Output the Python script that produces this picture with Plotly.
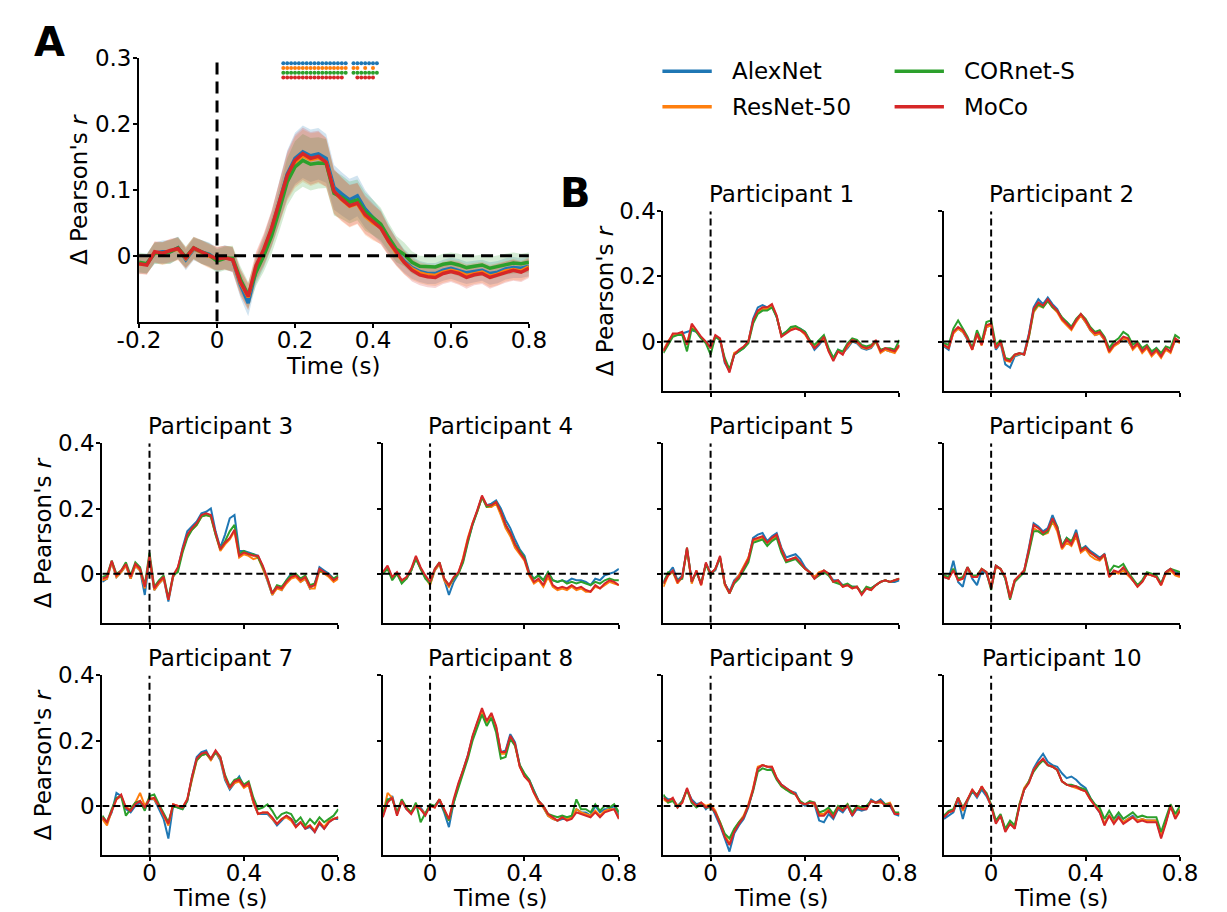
import numpy as np
import plotly.graph_objects as go

W, H = 1227, 912
FONT = "DejaVu Sans"

time = np.round(np.linspace(-0.2, 0.8, 51), 2)

models = ["AlexNet", "ResNet-50", "CORnet-S", "MoCo"]
colors = ["#1f77b4", "#ff7f0e", "#2ca02c", "#d62728"]
fills = ["rgba(31,119,180,0.2)", "rgba(255,127,14,0.2)", "rgba(44,160,44,0.2)", "rgba(214,39,40,0.2)"]

# ---------------- Panel A: group average ----------------
a_alexnet = [-0.012, -0.012, 0.004, 0.006, 0.006, 0.012, -0.006, 0.010, 0.006, 0.002,
             -0.006, -0.002, -0.006, -0.044, -0.072, -0.022, 0.006, 0.040, 0.082, 0.124,
             0.148, 0.158, 0.152, 0.155, 0.148, 0.104, 0.094, 0.085, 0.091, 0.071,
             0.058, 0.045, 0.024, 0.006, -0.008, -0.018, -0.024, -0.027, -0.027, -0.022,
             -0.019, -0.022, -0.026, -0.024, -0.022, -0.027, -0.025, -0.020, -0.018, -0.019, -0.016]
a_resnet = [-0.013, -0.013, 0.005, 0.003, 0.007, 0.010, -0.004, 0.011, 0.005, -0.001,
            -0.004, -0.003, -0.005, -0.041, -0.063, -0.018, 0.008, 0.040, 0.080, 0.119,
            0.142, 0.152, 0.146, 0.149, 0.142, 0.097, 0.085, 0.075, 0.079, 0.060,
            0.050, 0.043, 0.022, 0.004, -0.010, -0.020, -0.026, -0.029, -0.030, -0.025,
            -0.022, -0.025, -0.030, -0.027, -0.025, -0.031, -0.028, -0.023, -0.021, -0.023, -0.017]
a_cornet = [-0.010, -0.012, 0.004, 0.004, 0.006, 0.012, -0.002, 0.012, 0.006, 0.001,
            -0.008, -0.004, -0.004, -0.036, -0.060, -0.025, 0.000, 0.030, 0.070, 0.112,
            0.135, 0.145, 0.139, 0.141, 0.140, 0.095, 0.089, 0.081, 0.085, 0.067,
            0.058, 0.048, 0.028, 0.010, 0.002, -0.010, -0.016, -0.017, -0.017, -0.013,
            -0.011, -0.014, -0.018, -0.016, -0.014, -0.019, -0.016, -0.013, -0.011, -0.012, -0.010]
a_moco = [-0.012, -0.014, 0.006, 0.004, 0.008, 0.011, -0.003, 0.012, 0.006, 0.000,
          -0.005, -0.003, -0.006, -0.040, -0.062, -0.015, 0.010, 0.042, 0.082, 0.122,
          0.145, 0.155, 0.148, 0.151, 0.142, 0.098, 0.086, 0.076, 0.080, 0.062,
          0.052, 0.042, 0.022, 0.005, -0.010, -0.022, -0.029, -0.032, -0.033, -0.027,
          -0.024, -0.027, -0.033, -0.029, -0.027, -0.033, -0.029, -0.025, -0.022, -0.025, -0.019]
a_sem = [0.015, 0.015, 0.016, 0.017, 0.018, 0.017, 0.016, 0.017, 0.018, 0.018,
         0.018, 0.018, 0.019, 0.020, 0.020, 0.021, 0.024, 0.027, 0.032, 0.036,
         0.039, 0.040, 0.040, 0.039, 0.037, 0.034, 0.033, 0.032, 0.031, 0.029,
         0.027, 0.025, 0.022, 0.020, 0.018, 0.017, 0.016, 0.016, 0.016, 0.016,
         0.016, 0.017, 0.017, 0.016, 0.016, 0.017, 0.017, 0.016, 0.016, 0.015, 0.015]

# significant time points (s)
sig_alexnet = [0.17, 0.18, 0.19, 0.20, 0.21, 0.22, 0.23, 0.24, 0.25, 0.26, 0.27, 0.28, 0.29, 0.30, 0.31, 0.32, 0.33,
               0.35, 0.36, 0.37, 0.38, 0.39, 0.40, 0.41]
sig_resnet = [0.17, 0.18, 0.19, 0.20, 0.21, 0.22, 0.23, 0.24, 0.25, 0.26, 0.27, 0.28, 0.29, 0.30, 0.31, 0.32, 0.33,
              0.35, 0.36, 0.38, 0.40]
sig_cornet = [0.17, 0.18, 0.19, 0.20, 0.21, 0.22, 0.23, 0.24, 0.25, 0.26, 0.27, 0.28, 0.29, 0.30, 0.31, 0.32, 0.33,
              0.35, 0.36, 0.37, 0.38, 0.39, 0.40, 0.41]
sig_moco = [0.17, 0.18, 0.19, 0.20, 0.21, 0.22, 0.23, 0.24, 0.25, 0.26, 0.27, 0.28, 0.29, 0.30, 0.31, 0.32,
            0.36, 0.37, 0.38, 0.39, 0.40]

# ---------------- Panel B: individual participants ----------------
p1_alexnet = [-0.025, -0.005, 0.02, 0.02, 0.025, 0.03, 0.035, 0.03, 0.01, 0.0,
              -0.02, 0.015, 0.005, -0.065, -0.09, -0.04, -0.03, -0.02, 0.0, 0.07,
              0.105, 0.112, 0.105, 0.11, 0.075, 0.02, 0.03, 0.04, 0.045, 0.04,
              0.03, 0.0, -0.025, -0.01, 0.01, -0.025, -0.05, -0.025, -0.035, -0.02,
              0.0, -0.005, -0.02, -0.025, -0.02, 0.0, -0.03, -0.025, -0.03, -0.025, -0.015]
p1_resnet = [-0.028, 0.002, 0.02, 0.022, 0.025, -0.005, 0.045, 0.03, 0.012, -0.002,
             -0.018, 0.015, 0.008, -0.058, -0.09, -0.035, -0.028, -0.018, 0.002, 0.06,
             0.09, 0.1, 0.1, 0.11, 0.078, 0.018, 0.028, 0.038, 0.042, 0.035,
             0.022, -0.002, -0.018, -0.005, 0.01, -0.028, -0.055, -0.03, -0.038, -0.015,
             0.002, -0.002, -0.018, -0.022, -0.018, 0.0, -0.035, -0.025, -0.03, -0.035, -0.012]
p1_cornet = [-0.035, -0.01, 0.015, 0.02, 0.02, -0.03, 0.04, 0.03, 0.01, -0.005,
             -0.04, 0.015, 0.005, -0.05, -0.085, -0.04, -0.03, -0.02, -0.005, 0.055,
             0.085, 0.095, 0.095, 0.105, 0.075, 0.02, 0.03, 0.045, 0.048, 0.04,
             0.03, 0.005, -0.01, 0.005, 0.02, -0.02, -0.05, -0.025, -0.03, -0.005,
             0.01, 0.005, -0.01, -0.015, -0.01, 0.0, -0.025, -0.02, -0.02, -0.025, 0.005]
p1_moco = [-0.03, 0.0, 0.025, 0.025, 0.03, -0.01, 0.055, 0.035, 0.015, 0.0,
           -0.02, 0.02, 0.01, -0.06, -0.095, -0.04, -0.025, -0.015, 0.0, 0.065,
           0.095, 0.105, 0.105, 0.115, 0.08, 0.015, 0.025, 0.035, 0.04, 0.035,
           0.025, 0.0, -0.02, -0.005, 0.015, -0.03, -0.06, -0.03, -0.04, -0.01,
           0.005, 0.0, -0.015, -0.02, -0.015, 0.005, -0.03, -0.02, -0.025, -0.03, -0.01]

p2_alexnet = [-0.015, -0.025, 0.03, 0.04, 0.03, 0.005, -0.02, 0.02, -0.005, 0.045,
              0.05, -0.025, -0.005, -0.07, -0.08, -0.045, -0.04, -0.035, 0.025, 0.105,
              0.13, 0.115, 0.135, 0.115, 0.1, 0.07, 0.06, 0.045, 0.065, 0.08,
              0.06, 0.035, 0.02, 0.025, 0.005, -0.025, -0.01, -0.005, 0.01, 0.0,
              -0.02, -0.01, -0.025, -0.02, -0.035, -0.02, -0.04, -0.025, -0.03, 0.005, 0.0]
p2_resnet = [-0.012, -0.02, 0.025, 0.04, 0.03, 0.008, -0.025, 0.022, -0.012, 0.045,
             0.05, -0.02, -0.002, -0.058, -0.062, -0.042, -0.038, -0.038, 0.015, 0.09,
             0.11, 0.105, 0.125, 0.105, 0.09, 0.065, 0.05, 0.035, 0.06, 0.08,
             0.06, 0.035, 0.02, 0.025, 0.005, -0.035, -0.015, -0.005, 0.01, 0.005,
             -0.025, -0.01, -0.035, -0.02, -0.045, -0.03, -0.05, -0.025, -0.035, 0.005, -0.005]
p2_cornet = [-0.005, -0.01, 0.04, 0.065, 0.04, 0.015, -0.02, 0.035, 0.0, 0.06,
             0.065, -0.01, 0.005, -0.05, -0.055, -0.04, -0.035, -0.04, 0.015, 0.095,
             0.115, 0.105, 0.125, 0.105, 0.095, 0.075, 0.06, 0.045, 0.07, 0.085,
             0.07, 0.045, 0.03, 0.035, 0.015, -0.02, 0.0, 0.01, 0.03, 0.02,
             -0.01, 0.0, -0.02, -0.01, -0.03, -0.02, -0.035, -0.015, -0.02, 0.02, 0.01]
p2_moco = [-0.01, -0.02, 0.03, 0.045, 0.035, 0.01, -0.025, 0.025, -0.01, 0.05,
           0.055, -0.02, 0.0, -0.055, -0.06, -0.04, -0.035, -0.04, 0.02, 0.1,
           0.12, 0.11, 0.13, 0.11, 0.095, 0.07, 0.055, 0.04, 0.065, 0.085,
           0.065, 0.04, 0.025, 0.03, 0.01, -0.03, -0.01, 0.0, 0.015, 0.01,
           -0.02, -0.005, -0.03, -0.015, -0.04, -0.025, -0.045, -0.02, -0.03, 0.01, 0.0]

p3_alexnet = [-0.025, -0.015, 0.035, -0.01, 0.005, 0.025, -0.015, 0.025, 0.01, -0.065,
              0.045, -0.05, -0.03, -0.015, -0.085, -0.01, 0.015, 0.08, 0.13, 0.145,
              0.16, 0.185, 0.19, 0.2, 0.13, 0.08, 0.12, 0.17, 0.18, 0.07,
              0.07, 0.065, 0.06, 0.055, 0.02, -0.02, -0.065, -0.04, -0.05, -0.02,
              0.0, -0.005, -0.025, -0.015, -0.045, -0.03, 0.02, 0.01, 0.0, -0.015, -0.01]
p3_resnet = [-0.02, -0.015, 0.035, -0.01, 0.005, 0.025, -0.015, 0.025, 0.01, -0.045,
             0.05, -0.05, -0.03, -0.015, -0.08, -0.01, 0.015, 0.07, 0.115, 0.135,
             0.15, 0.175, 0.18, 0.175, 0.12, 0.07, 0.09, 0.105, 0.13, 0.05,
             0.06, 0.055, 0.045, 0.05, 0.015, -0.02, -0.065, -0.045, -0.05, -0.03,
             -0.015, -0.01, -0.025, -0.015, -0.045, -0.045, 0.01, 0.0, -0.01, -0.025, -0.015]
p3_cornet = [-0.01, -0.005, 0.04, 0.0, 0.01, 0.035, -0.005, 0.035, 0.02, -0.035,
             0.065, -0.04, -0.02, -0.005, -0.075, -0.005, 0.005, 0.065, 0.11, 0.135,
             0.15, 0.175, 0.18, 0.175, 0.12, 0.075, 0.1, 0.13, 0.15, 0.06,
             0.07, 0.06, 0.06, 0.05, 0.02, -0.015, -0.06, -0.035, -0.04, -0.02,
             -0.005, 0.0, -0.015, -0.005, -0.035, -0.03, 0.01, 0.005, -0.005, -0.015, -0.005]
p3_moco = [-0.015, -0.01, 0.04, -0.005, 0.01, 0.03, -0.01, 0.03, 0.015, -0.04,
           0.055, -0.045, -0.025, -0.01, -0.08, -0.005, 0.02, 0.075, 0.12, 0.14,
           0.155, 0.18, 0.185, 0.18, 0.125, 0.075, 0.095, 0.11, 0.135, 0.055,
           0.065, 0.06, 0.055, 0.055, 0.025, -0.015, -0.06, -0.04, -0.045, -0.025,
           -0.01, -0.005, -0.02, -0.01, -0.04, -0.035, 0.015, 0.005, -0.005, -0.02, -0.01]

p4_alexnet = [0.0, 0.02, -0.015, 0.0, -0.02, -0.015, 0.01, 0.05, 0.015, -0.01,
              -0.03, 0.01, 0.03, -0.02, -0.065, -0.025, 0.0, 0.04, 0.1, 0.15,
              0.195, 0.235, 0.21, 0.215, 0.225, 0.2, 0.165, 0.14, 0.105, 0.075,
              0.055, 0.005, -0.015, -0.005, -0.02, 0.005, -0.02, -0.025, -0.02, -0.025,
              -0.015, -0.02, -0.02, -0.025, -0.035, -0.015, -0.02, -0.005, 0.0, 0.005, 0.015]
p4_resnet = [0.0, 0.02, -0.015, 0.0, -0.025, -0.015, 0.01, 0.05, 0.015, -0.01,
             -0.035, 0.01, 0.03, -0.02, -0.04, -0.015, 0.0, 0.05, 0.11, 0.155,
             0.19, 0.235, 0.205, 0.205, 0.215, 0.18, 0.14, 0.115, 0.08, 0.06,
             0.04, -0.005, -0.03, -0.02, -0.04, -0.01, -0.04, -0.05, -0.045, -0.05,
             -0.04, -0.05, -0.045, -0.055, -0.055, -0.04, -0.045, -0.035, -0.025, -0.03, -0.035]
p4_cornet = [0.0, 0.015, -0.02, 0.0, -0.03, -0.015, 0.01, 0.045, 0.015, -0.015,
             -0.03, 0.015, 0.035, -0.015, -0.035, -0.015, 0.0, 0.035, 0.095, 0.15,
             0.19, 0.235, 0.205, 0.21, 0.22, 0.19, 0.15, 0.125, 0.09, 0.07,
             0.05, 0.0, -0.015, -0.005, -0.02, 0.005, -0.02, -0.025, -0.02, -0.03,
             -0.025, -0.03, -0.025, -0.03, -0.035, -0.025, -0.03, -0.02, -0.015, -0.02, -0.02]
p4_moco = [0.005, 0.025, -0.01, 0.005, -0.02, -0.01, 0.015, 0.055, 0.02, -0.005,
           -0.025, 0.015, 0.035, -0.015, -0.035, -0.01, 0.005, 0.045, 0.105, 0.155,
           0.195, 0.24, 0.21, 0.21, 0.22, 0.19, 0.15, 0.125, 0.09, 0.065,
           0.045, 0.0, -0.025, -0.015, -0.035, 0.0, -0.035, -0.045, -0.04, -0.045,
           -0.035, -0.045, -0.04, -0.05, -0.055, -0.035, -0.045, -0.03, -0.02, -0.025, -0.035]

p5_alexnet = [-0.025, 0.0, 0.02, -0.02, -0.005, 0.075, -0.02, 0.005, -0.03, 0.03,
              0.005, 0.01, 0.05, -0.03, -0.055, -0.02, -0.005, 0.02, 0.045, 0.11,
              0.12, 0.125, 0.1, 0.115, 0.125, 0.08, 0.05, 0.055, 0.06, 0.045,
              0.02, 0.005, -0.01, 0.0, 0.01, 0.0, -0.02, -0.02, -0.035, -0.035,
              -0.04, -0.04, -0.06, -0.045, -0.045, -0.035, -0.025, -0.02, -0.025, -0.025, -0.02]
p5_resnet = [-0.04, -0.005, 0.005, -0.03, -0.01, 0.075, -0.03, 0.01, -0.035, 0.03,
             0.0, 0.015, 0.05, -0.035, -0.06, -0.025, -0.005, 0.025, 0.05, 0.1,
             0.105, 0.11, 0.095, 0.105, 0.115, 0.075, 0.04, 0.045, 0.05, 0.03,
             0.015, 0.005, -0.01, 0.005, 0.01, 0.0, -0.025, -0.025, -0.04, -0.035,
             -0.045, -0.04, -0.06, -0.045, -0.05, -0.035, -0.025, -0.02, -0.025, -0.02, -0.015]
p5_cornet = [-0.03, 0.005, 0.005, -0.02, -0.015, 0.08, -0.025, 0.005, -0.03, 0.03,
             -0.005, 0.015, 0.05, -0.03, -0.06, -0.03, -0.015, 0.01, 0.035, 0.095,
             0.1, 0.105, 0.085, 0.1, 0.11, 0.065, 0.035, 0.04, 0.045, 0.03,
             0.015, 0.005, -0.015, -0.005, 0.005, -0.005, -0.025, -0.03, -0.035, -0.03,
             -0.04, -0.04, -0.06, -0.04, -0.045, -0.035, -0.025, -0.02, -0.025, -0.02, -0.015]
p5_moco = [-0.03, -0.005, 0.01, -0.025, -0.01, 0.08, -0.025, 0.01, -0.035, 0.035,
           0.0, 0.015, 0.055, -0.03, -0.06, -0.025, -0.01, 0.02, 0.045, 0.105,
           0.11, 0.115, 0.095, 0.11, 0.12, 0.075, 0.04, 0.045, 0.05, 0.035,
           0.015, 0.005, -0.015, 0.0, 0.01, 0.0, -0.025, -0.02, -0.04, -0.035,
           -0.045, -0.04, -0.065, -0.045, -0.05, -0.035, -0.025, -0.02, -0.025, -0.02, -0.015]

p6_alexnet = [-0.01, -0.015, 0.04, -0.025, -0.04, 0.02, -0.015, -0.035, 0.01, 0.0,
              -0.04, 0.025, 0.015, -0.015, -0.07, -0.02, -0.005, 0.01, 0.08, 0.155,
              0.145, 0.13, 0.14, 0.18, 0.145, 0.085, 0.11, 0.095, 0.135, 0.075,
              0.085, 0.07, 0.06, 0.05, 0.06, -0.005, 0.005, 0.005, 0.015, 0.0,
              -0.02, -0.035, -0.025, 0.0, -0.005, -0.01, -0.03, 0.005, 0.015, 0.005, 0.0]
p6_resnet = [-0.005, -0.015, 0.015, -0.02, -0.015, 0.015, -0.01, -0.01, 0.015, 0.005,
             -0.04, 0.02, 0.015, -0.01, -0.07, -0.02, -0.005, 0.01, 0.07, 0.14,
             0.13, 0.12, 0.125, 0.16, 0.13, 0.075, 0.095, 0.085, 0.115, 0.065,
             0.075, 0.055, 0.045, 0.04, 0.055, -0.01, 0.005, 0.0, 0.01, -0.005,
             -0.02, -0.04, -0.025, 0.0, -0.005, -0.01, -0.035, 0.0, 0.01, -0.005, -0.01]
p6_cornet = [-0.005, -0.01, 0.015, -0.015, -0.01, 0.02, -0.005, -0.005, 0.015, 0.005,
             -0.05, 0.025, 0.015, -0.015, -0.08, -0.025, -0.01, 0.005, 0.065, 0.13,
             0.13, 0.12, 0.13, 0.165, 0.145, 0.085, 0.11, 0.1, 0.125, 0.075,
             0.08, 0.065, 0.055, 0.045, 0.06, 0.005, 0.025, 0.02, 0.03, 0.005,
             -0.015, -0.035, -0.02, 0.005, 0.0, -0.005, -0.03, 0.005, 0.015, 0.01, 0.005]
p6_moco = [-0.01, -0.015, 0.01, -0.02, -0.015, 0.02, -0.01, -0.01, 0.015, 0.005,
           -0.045, 0.025, 0.015, -0.01, -0.075, -0.02, -0.005, 0.01, 0.075, 0.15,
           0.14, 0.125, 0.135, 0.17, 0.14, 0.08, 0.105, 0.09, 0.125, 0.07,
           0.08, 0.065, 0.055, 0.045, 0.06, -0.01, 0.01, 0.005, 0.02, 0.0,
           -0.02, -0.04, -0.025, 0.0, -0.005, -0.01, -0.035, 0.005, 0.015, 0.0, -0.005]

p7_alexnet = [-0.04, -0.05, -0.02, 0.04, 0.03, -0.01, -0.02, 0.0, 0.01, -0.01,
              0.02, 0.02, -0.01, -0.04, -0.1, 0.0, -0.005, -0.01, 0.015, 0.09,
              0.15, 0.165, 0.17, 0.14, 0.165, 0.14, 0.08, 0.05, 0.07, 0.09,
              0.06, 0.065, 0.01, -0.025, -0.025, -0.025, -0.04, -0.06, -0.045, -0.03,
              -0.04, -0.06, -0.05, -0.07, -0.065, -0.08, -0.055, -0.07, -0.05, -0.04, -0.04]
p7_resnet = [-0.04, -0.06, -0.015, 0.02, 0.03, -0.005, -0.01, 0.01, 0.04, 0.0,
             0.025, 0.02, 0.0, -0.03, -0.06, 0.005, 0.0, -0.005, 0.02, 0.085,
             0.14, 0.155, 0.16, 0.14, 0.165, 0.145, 0.085, 0.055, 0.07, 0.075,
             0.055, 0.065, 0.01, -0.025, -0.02, -0.02, -0.04, -0.055, -0.04, -0.035,
             -0.045, -0.065, -0.05, -0.065, -0.06, -0.075, -0.05, -0.065, -0.045, -0.04, -0.035]
p7_cornet = [-0.03, -0.05, -0.01, 0.025, 0.03, -0.03, -0.01, 0.01, 0.015, -0.015,
             0.03, 0.035, 0.005, -0.025, -0.05, 0.0, -0.005, -0.01, 0.015, 0.085,
             0.14, 0.155, 0.16, 0.145, 0.165, 0.15, 0.095, 0.06, 0.08, 0.085,
             0.065, 0.075, 0.025, -0.01, -0.005, 0.005, -0.015, -0.04, -0.025, -0.02,
             -0.025, -0.05, -0.035, -0.06, -0.04, -0.055, -0.035, -0.05, -0.04, -0.03, -0.01]
p7_moco = [-0.035, -0.05, -0.015, 0.02, 0.035, -0.005, -0.015, 0.005, 0.015, -0.005,
           0.02, 0.025, 0.0, -0.03, -0.055, 0.005, 0.0, -0.005, 0.02, 0.09,
           0.145, 0.16, 0.165, 0.145, 0.17, 0.15, 0.09, 0.055, 0.075, 0.08,
           0.06, 0.07, 0.015, -0.025, -0.02, -0.02, -0.035, -0.055, -0.04, -0.03,
           -0.04, -0.065, -0.05, -0.07, -0.06, -0.08, -0.05, -0.07, -0.05, -0.04, -0.035]

p8_alexnet = [-0.03, 0.015, 0.03, -0.025, 0.015, -0.01, -0.02, 0.0, -0.005, -0.025,
              0.0, 0.0, 0.015, -0.02, -0.065, 0.01, 0.065, 0.11, 0.155, 0.21,
              0.255, 0.29, 0.26, 0.28, 0.24, 0.165, 0.17, 0.22, 0.195, 0.125,
              0.095, 0.08, 0.045, 0.015, -0.005, -0.03, -0.04, -0.045, -0.04, -0.04,
              -0.035, -0.01, -0.02, -0.02, -0.03, 0.0, -0.02, -0.01, -0.01, 0.0, -0.03]
p8_resnet = [-0.03, 0.04, 0.025, -0.025, 0.015, -0.005, -0.02, 0.005, -0.01, -0.025,
             0.0, -0.005, 0.02, -0.01, -0.045, 0.015, 0.065, 0.11, 0.15, 0.21,
             0.25, 0.29, 0.255, 0.28, 0.24, 0.16, 0.16, 0.21, 0.185, 0.12,
             0.09, 0.075, 0.04, 0.01, -0.005, -0.03, -0.04, -0.045, -0.035, -0.04,
             -0.035, -0.01, -0.02, -0.025, -0.03, -0.015, -0.03, -0.015, -0.01, -0.01, -0.035]
p8_cornet = [-0.025, 0.02, 0.02, -0.02, 0.02, -0.005, -0.02, 0.01, -0.05, -0.02,
             0.005, 0.0, 0.02, -0.015, -0.045, 0.01, 0.055, 0.1, 0.145, 0.2,
             0.24, 0.28, 0.245, 0.27, 0.225, 0.145, 0.15, 0.205, 0.185, 0.125,
             0.1, 0.08, 0.045, 0.015, 0.0, -0.025, -0.03, -0.035, -0.03, -0.035,
             -0.03, 0.02, -0.01, -0.01, -0.02, 0.005, -0.015, 0.0, -0.005, 0.005, -0.02]
p8_moco = [-0.035, 0.01, 0.025, -0.03, 0.015, -0.01, -0.025, 0.0, -0.01, -0.03,
           0.0, -0.005, 0.02, -0.01, -0.04, 0.02, 0.07, 0.11, 0.155, 0.215,
           0.255, 0.3, 0.26, 0.285, 0.245, 0.165, 0.165, 0.215, 0.19, 0.12,
           0.09, 0.075, 0.04, 0.015, 0.0, -0.025, -0.035, -0.045, -0.035, -0.045,
           -0.04, -0.02, -0.025, -0.03, -0.035, -0.02, -0.035, -0.02, -0.015, -0.01, -0.04]

p9_alexnet = [0.03, 0.02, 0.02, 0.0, 0.015, 0.05, 0.02, 0.005, 0.01, -0.01,
              0.005, -0.025, -0.06, -0.1, -0.14, -0.085, -0.06, -0.04, -0.005, 0.05,
              0.115, 0.125, 0.12, 0.115, 0.085, 0.065, 0.055, 0.045, 0.04, 0.01,
              0.0, 0.01, 0.005, -0.045, -0.05, -0.025, -0.04, -0.01, -0.02, 0.0,
              -0.03, -0.01, -0.015, -0.01, 0.02, 0.01, 0.02, 0.005, 0.0, -0.025, -0.03]
p9_resnet = [0.02, 0.01, 0.02, 0.0, 0.01, 0.05, 0.01, 0.0, 0.01, 0.0,
             0.005, -0.015, -0.05, -0.09, -0.115, -0.075, -0.05, -0.03, 0.005, 0.055,
             0.12, 0.125, 0.12, 0.12, 0.085, 0.06, 0.05, 0.045, 0.035, 0.01,
             0.005, 0.01, 0.005, -0.025, -0.025, -0.01, -0.03, -0.005, -0.01, 0.005,
             -0.025, 0.0, -0.005, -0.005, 0.015, 0.01, 0.01, 0.005, 0.01, -0.02, -0.025]
p9_cornet = [0.035, 0.01, 0.015, -0.005, 0.015, 0.05, 0.01, -0.005, 0.005, -0.005,
             -0.005, -0.02, -0.05, -0.085, -0.1, -0.07, -0.05, -0.035, 0.0, 0.045,
             0.105, 0.115, 0.11, 0.11, 0.08, 0.06, 0.05, 0.04, 0.035, 0.015,
             0.005, 0.015, 0.01, -0.02, -0.015, -0.005, -0.025, 0.0, -0.01, 0.005,
             -0.02, 0.0, -0.005, 0.0, 0.015, 0.01, 0.015, 0.005, 0.005, -0.02, -0.02]
p9_moco = [0.025, 0.015, 0.025, -0.005, 0.01, 0.055, 0.015, 0.0, 0.01, -0.005,
           0.0, -0.02, -0.055, -0.095, -0.12, -0.08, -0.055, -0.035, 0.0, 0.05,
           0.115, 0.125, 0.12, 0.12, 0.085, 0.065, 0.055, 0.045, 0.035, 0.01,
           0.005, 0.01, 0.01, -0.03, -0.03, -0.015, -0.035, -0.005, -0.015, 0.0,
           -0.03, -0.005, -0.01, -0.01, 0.015, 0.01, 0.015, 0.0, 0.005, -0.025, -0.025]

p10_alexnet = [-0.04, -0.03, -0.02, 0.02, -0.04, 0.015, 0.045, 0.025, 0.05, 0.03,
               0.0, -0.05, -0.03, -0.075, -0.055, -0.065, 0.0, 0.05, 0.075, 0.115,
               0.14, 0.16, 0.135, 0.125, 0.12, 0.1, 0.085, 0.09, 0.08, 0.065,
               0.055, 0.025, 0.0, -0.02, -0.055, -0.03, -0.05, -0.03, -0.05, -0.04,
               -0.03, -0.045, -0.04, -0.045, -0.045, -0.045, -0.095, -0.05, 0.0, -0.035, -0.01]
p10_resnet = [-0.03, -0.02, -0.015, 0.025, -0.015, 0.02, 0.05, 0.03, 0.06, 0.035,
              0.0, -0.05, -0.03, -0.075, -0.055, -0.065, 0.005, 0.055, 0.075, 0.11,
              0.13, 0.14, 0.125, 0.12, 0.11, 0.075, 0.065, 0.06, 0.055, 0.05,
              0.045, 0.02, 0.0, -0.015, -0.055, -0.03, -0.05, -0.035, -0.05, -0.04,
              -0.035, -0.045, -0.04, -0.045, -0.045, -0.045, -0.09, -0.05, 0.0, -0.035, -0.01]
p10_cornet = [-0.03, -0.015, -0.01, 0.025, -0.005, 0.02, 0.045, 0.035, 0.055, 0.04,
              0.005, -0.045, -0.025, -0.07, -0.045, -0.06, 0.005, 0.05, 0.075, 0.105,
              0.125, 0.14, 0.125, 0.12, 0.11, 0.075, 0.065, 0.065, 0.06, 0.055,
              0.05, 0.025, 0.005, -0.005, -0.04, -0.015, -0.04, -0.02, -0.04, -0.03,
              -0.02, -0.035, -0.03, -0.035, -0.035, -0.035, -0.08, -0.04, 0.005, -0.025, 0.0]
p10_moco = [-0.035, -0.02, -0.015, 0.025, -0.01, 0.02, 0.05, 0.03, 0.06, 0.035,
            0.0, -0.055, -0.03, -0.08, -0.055, -0.07, 0.0, 0.05, 0.07, 0.11,
            0.13, 0.145, 0.125, 0.12, 0.11, 0.075, 0.065, 0.06, 0.06, 0.05,
            0.045, 0.02, 0.0, -0.02, -0.06, -0.03, -0.055, -0.035, -0.055, -0.045,
            -0.035, -0.05, -0.045, -0.05, -0.05, -0.05, -0.1, -0.055, 0.0, -0.04, -0.015]

participants = [
    [p1_alexnet, p1_resnet, p1_cornet, p1_moco],
    [p2_alexnet, p2_resnet, p2_cornet, p2_moco],
    [p3_alexnet, p3_resnet, p3_cornet, p3_moco],
    [p4_alexnet, p4_resnet, p4_cornet, p4_moco],
    [p5_alexnet, p5_resnet, p5_cornet, p5_moco],
    [p6_alexnet, p6_resnet, p6_cornet, p6_moco],
    [p7_alexnet, p7_resnet, p7_cornet, p7_moco],
    [p8_alexnet, p8_resnet, p8_cornet, p8_moco],
    [p9_alexnet, p9_resnet, p9_cornet, p9_moco],
    [p10_alexnet, p10_resnet, p10_cornet, p10_moco],
]

# ---------------- Layout helpers (pixel -> paper) ----------------
def fx(p):
    return p / W

def fy(p):
    return 1 - p / H

FS = 23
tickfont = dict(family=FONT, size=FS, color="black")
axis_common = dict(showline=True, linecolor="black", linewidth=2, ticks="outside",
                   tickcolor="black", tickwidth=2, ticklen=4, showgrid=False,
                   zeroline=False, tickfont=tickfont, fixedrange=True)
xaxis_common = dict(axis_common, ticklabelstandoff=-7)
yaxis_common = dict(axis_common, ticklabelstandoff=-3)

fig = go.Figure()
annotations = []
shapes = []

# ---- Panel A ----
A_l, A_r, A_t, A_b = 121, 524, 46, 313
a_series = [a_alexnet, a_resnet, a_cornet, a_moco]
for k in range(4):
    m = np.array(a_series[k])
    s = np.array(a_sem)
    fig.add_trace(go.Scatter(x=np.concatenate([time, time[::-1]]),
                             y=np.concatenate([m + s, (m - s)[::-1]]),
                             fill="toself", fillcolor=fills[k], line=dict(width=0),
                             hoverinfo="skip", showlegend=False, xaxis="x", yaxis="y"))
for k in range(4):
    fig.add_trace(go.Scatter(x=time, y=a_series[k], mode="lines", name=models[k],
                             line=dict(color=colors[k], width=3.5), showlegend=False,
                             xaxis="x", yaxis="y"))
sig_sets = [sig_alexnet, sig_resnet, sig_cornet, sig_moco]
sig_levels = [0.2925, 0.2855, 0.278, 0.271]
for k in range(4):
    fig.add_trace(go.Scatter(x=sig_sets[k], y=[sig_levels[k]] * len(sig_sets[k]), mode="markers",
                             marker=dict(color=colors[k], size=4), showlegend=False,
                             cliponaxis=False, xaxis="x", yaxis="y"))

layout_axes = {}
layout_axes["xaxis"] = dict(xaxis_common, domain=[fx(A_l), fx(A_r)], range=[-0.2, 0.8], anchor="y",
                            tickvals=[-0.2, 0, 0.2, 0.4, 0.6, 0.8],
                            ticktext=["-0.2", "0", "0.2", "0.4", "0.6", "0.8"])
layout_axes["yaxis"] = dict(yaxis_common, domain=[fy(A_b), fy(A_t)], range=[-0.1, 0.3], anchor="x",
                            tickvals=[0, 0.1, 0.2, 0.3], ticktext=["0", "0.1", "0.2", "0.3"])
shapes.append(dict(type="line", xref="x", yref="y", x0=0, x1=0, y0=-0.1, y1=0.3,
                   line=dict(color="black", width=3, dash="12px,7px")))
shapes.append(dict(type="line", xref="x", yref="y", x0=-0.2, x1=0.8, y0=0, y1=0,
                   line=dict(color="black", width=3, dash="12px,7px")))
annotations.append(dict(text="Δ Pearson's <i>r</i>", x=fx(59), y=fy((A_t + A_b) / 2), xref="paper", yref="paper",
                        textangle=-90, showarrow=False, xanchor="center", yanchor="middle",
                        font=dict(family=FONT, size=FS, color="black")))
annotations.append(dict(text="Time (s)", x=fx((A_l + A_r) / 2), y=fy(358), xref="paper", yref="paper",
                        showarrow=False, xanchor="center", yanchor="middle",
                        font=dict(family=FONT, size=FS, color="black")))

# ---- Panel B ----
col_left = [83, 373, 663, 953]
row_top = [201, 436.5, 672]
PW, PH = 244, 182
positions = [(0, 2), (0, 3), (1, 0), (1, 1), (1, 2), (1, 3), (2, 0), (2, 1), (2, 2), (2, 3)]
label_y = {0, 2, 6}
for i, (r, c) in enumerate(positions):
    n = i + 2
    xa, ya = f"x{n}", f"y{n}"
    l, t = col_left[c], row_top[r]
    rgt, b = l + PW, t + PH
    for k in range(4):
        fig.add_trace(go.Scatter(x=time, y=participants[i][k], mode="lines", name=models[k],
                                 line=dict(color=colors[k], width=2), showlegend=False,
                                 xaxis=xa, yaxis=ya))
    layout_axes[f"xaxis{n}"] = dict(xaxis_common, domain=[fx(l), fx(rgt)], range=[-0.2, 0.8], anchor=ya,
                                    tickvals=[0, 0.4, 0.8], ticktext=["0", "0.4", "0.8"],
                                    showticklabels=(r == 2))
    layout_axes[f"yaxis{n}"] = dict(yaxis_common, domain=[fy(b), fy(t)], range=[-0.15, 0.4], anchor=xa,
                                    tickvals=[0, 0.2, 0.4], ticktext=["0", "0.2", "0.4"],
                                    showticklabels=(i in label_y))
    shapes.append(dict(type="line", xref=xa, yref=ya, x0=0, x1=0, y0=-0.15, y1=0.4,
                       line=dict(color="black", width=2, dash="7px,4px")))
    shapes.append(dict(type="line", xref=xa, yref=ya, x0=-0.2, x1=0.8, y0=0, y1=0,
                       line=dict(color="black", width=2, dash="7px,4px")))
    annotations.append(dict(text=f"Participant {i + 1}", x=fx((l + rgt) / 2), y=fy(t), xref="paper",
                            yref="paper", showarrow=False, xanchor="center", yanchor="bottom", yshift=2,
                            font=dict(family=FONT, size=FS, color="black")))
    if i in label_y:
        annotations.append(dict(text="Δ Pearson's <i>r</i>", x=fx(l - 61), y=fy((t + b) / 2), xref="paper",
                                yref="paper", textangle=-90, showarrow=False, xanchor="center",
                                yanchor="middle", font=dict(family=FONT, size=FS, color="black")))
    if r == 2:
        annotations.append(dict(text="Time (s)", x=fx((l + rgt) / 2), y=fy(b + 44), xref="paper",
                                yref="paper", showarrow=False, xanchor="center", yanchor="middle",
                                font=dict(family=FONT, size=FS, color="black")))

# ---- Panel letters ----
annotations.append(dict(text="<b>A</b>", x=fx(28), y=fy(29), xref="paper", yref="paper", showarrow=False,
                        xanchor="center", yanchor="middle", font=dict(family=FONT, size=40, color="black")))
annotations.append(dict(text="<b>B</b>", x=fx(572), y=fy(183), xref="paper", yref="paper", showarrow=False,
                        xanchor="center", yanchor="middle", font=dict(family=FONT, size=40, color="black")))

# ---- Legend (drawn manually, two columns) ----
leg_items = [(0, 662, 59), (1, 662, 95), (2, 902, 59), (3, 902, 95)]
for k, x0, yy in leg_items:
    shapes.append(dict(type="line", xref="paper", yref="paper", x0=fx(x0), x1=fx(x0 + 51),
                       y0=fy(yy), y1=fy(yy), line=dict(color=colors[k], width=3.5)))
    annotations.append(dict(text=models[k], x=fx(x0 + 70), y=fy(yy), xref="paper", yref="paper",
                            showarrow=False, xanchor="left", yanchor="middle",
                            font=dict(family=FONT, size=FS, color="black")))

fig.update_layout(width=W, height=H, margin=dict(l=0, r=0, t=0, b=0),
                  paper_bgcolor="white", plot_bgcolor="white", showlegend=False,
                  font=dict(family=FONT, size=FS, color="black"),
                  annotations=annotations, shapes=shapes, **layout_axes)

fig.write_html("out.html", config={"displayModeBar": False},
               post_script="document.body.style.margin='0';document.documentElement.style.overflow='hidden';")
